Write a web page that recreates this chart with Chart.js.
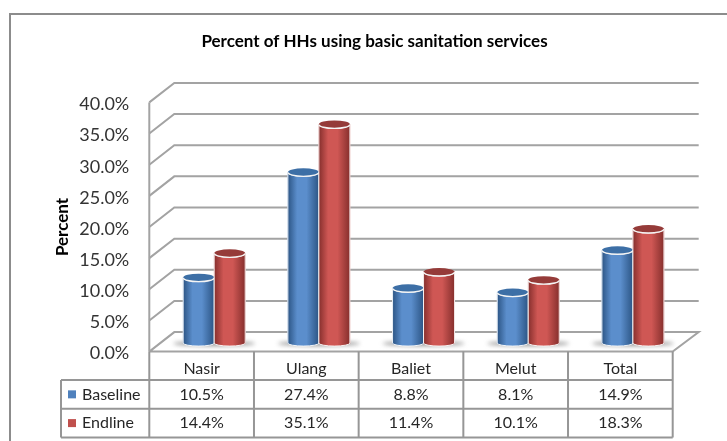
<!DOCTYPE html>
<html>
<head>
<meta charset="utf-8">
<title>Percent of HHs using basic sanitation services</title>
<script src="https://cdn.jsdelivr.net/npm/chart.js@4"></script>
<style>
    html, body { margin: 0; padding: 0; background: #fff; overflow: hidden; }
    #wrap { position: relative; width: 727px; height: 441px; }
</style>
</head>
<body>
<div id="wrap"><canvas id="sanitationChart" width="727" height="441"></canvas></div>
<script>
const categories = ["Nasir", "Ulang", "Baliet", "Melut", "Total"];
const baseline = [10.5, 27.4, 8.8, 8.1, 14.9];
const endline = [14.4, 35.1, 11.4, 10.1, 18.3];

const FONT = "Lato, sans-serif";
const LINE = "#a3a3a3";
const DEPTH_X = 25;
const DEPTH_Y = 19.5;
const RY = 4;
const ROWS = [380, 408.7, 437.5];
const LEGEND_LEFT = 61;
const PALETTE = [
    { edge: "#2c5585", mid: "#5b8ecc", top: "#3d6fa6" },
    { edge: "#862f2d", mid: "#cf5754", top: "#953b39" }
];

const fmt = v => v.toFixed(1) + "%";

// Back walls and floor, following the front y axis
const wallsPlugin = {
    id: "walls",
    beforeDatasetsDraw(chart) {
        const { ctx, chartArea: a, scales } = chart;
        ctx.save();
        ctx.strokeStyle = LINE;
        ctx.lineWidth = 2;
        scales.y.ticks.forEach(t => {
            const y = scales.y.getPixelForValue(t.value);
            ctx.beginPath();
            ctx.moveTo(a.left, y);
            ctx.lineTo(a.left + DEPTH_X, y - DEPTH_Y);
            ctx.lineTo(a.right + DEPTH_X + 1, y - DEPTH_Y);
            if (t.value === 0) {
                ctx.lineTo(a.right, y);
                ctx.lineTo(a.left, y);
            }
            ctx.stroke();
        });
        ctx.beginPath();
        ctx.moveTo(a.left, a.top);
        ctx.lineTo(a.left, a.bottom);
        ctx.stroke();

        // soft shadow on the floor
        const m0 = chart.getDatasetMeta(0).data;
        const m1 = chart.getDatasetMeta(1).data;
        ctx.filter = "blur(2px)";
        ctx.fillStyle = "#9a9a9a";
        m0.forEach((bar, i) => {
            const l = bar.x - bar.width / 2;
            const r = m1[i].x + m1[i].width / 2;
            ctx.beginPath();
            ctx.ellipse((l + r) / 2, bar.base + 0.5, (r - l) / 2 + 10, 2.5, 0, 0, Math.PI * 2);
            ctx.fill();
        });
        ctx.restore();
    }
};

// Paints each bar as a cylinder, from the bar element's own position
const cylinderPlugin = {
    id: "cylinders",
    afterDatasetsDraw(chart) {
        const { ctx } = chart;
        ctx.save();
        chart.data.datasets.forEach((ds, d) => {
            const c = PALETTE[d];
            chart.getDatasetMeta(d).data.forEach(bar => {
                const rx = bar.width / 2;
                const l = bar.x - rx;
                const r = bar.x + rx;
                const g = ctx.createLinearGradient(l, 0, r, 0);
                g.addColorStop(0, c.edge);
                g.addColorStop(0.3, c.mid);
                g.addColorStop(0.6, c.mid);
                g.addColorStop(1, c.edge);
                ctx.beginPath();
                ctx.moveTo(l, bar.y);
                ctx.lineTo(l, bar.base);
                ctx.ellipse(bar.x, bar.base, rx, RY - 1, 0, Math.PI, 0, true);
                ctx.lineTo(r, bar.y);
                ctx.ellipse(bar.x, bar.y, rx, RY, 0, 0, Math.PI, false);
                ctx.closePath();
                ctx.fillStyle = g;
                ctx.fill();
                ctx.strokeStyle = "rgba(255,255,255,0.9)";
                ctx.lineWidth = 1;
                ctx.stroke();
                ctx.beginPath();
                ctx.ellipse(bar.x, bar.y, rx, RY, 0, 0, Math.PI * 2);
                ctx.fillStyle = c.top;
                ctx.fill();
                ctx.strokeStyle = "#f4f4f4";
                ctx.lineWidth = 1.4;
                ctx.beginPath();
                ctx.ellipse(bar.x, bar.y, rx, RY, 0, 0, Math.PI, false);
                ctx.stroke();
            });
        });
        ctx.restore();
    }
};

// Outer frame plus the data table under the plot
const tablePlugin = {
    id: "dataTable",
    afterDraw(chart) {
        const { ctx, chartArea: a } = chart;
        const scale = chart.scales.x;
        ctx.save();
        ctx.strokeStyle = "#8c8c8c";
        ctx.lineWidth = 2;
        ctx.beginPath();
        ctx.moveTo(10, 441);
        ctx.lineTo(10, 14);
        ctx.lineTo(727, 14);
        ctx.stroke();

        ctx.strokeStyle = "#969696";
        ctx.lineWidth = 2;
        const step = (a.right - a.left) / categories.length;
        ctx.beginPath();
        for (let i = 0; i <= categories.length; i++) {
            ctx.moveTo(a.left + step * i, a.bottom);
            ctx.lineTo(a.left + step * i, ROWS[2]);
        }
        ROWS.forEach(y => {
            ctx.moveTo(LEGEND_LEFT, y);
            ctx.lineTo(a.right, y);
        });
        ctx.moveTo(LEGEND_LEFT, ROWS[0]);
        ctx.lineTo(LEGEND_LEFT, ROWS[2]);
        ctx.stroke();

        ctx.font = "16px " + FONT;
        ctx.textBaseline = "middle";
        chart.data.datasets.forEach((ds, d) => {
            const y = (ROWS[d] + ROWS[d + 1]) / 2;
            ctx.fillStyle = ds.backgroundColor;
            ctx.fillRect(LEGEND_LEFT + 7, y - 4, 8, 8);
            ctx.fillStyle = "#262626";
            ctx.textAlign = "left";
            ctx.fillText(ds.label, LEGEND_LEFT + 21, y);
            ctx.textAlign = "center";
            ds.data.forEach((p, i) => {
                ctx.fillText(fmt(p.y), scale.getPixelForTick(i), y);
            });
        });
        ctx.restore();
    }
};

const toPoints = values => values.map((v, i) => ({ x: i, y: v }));

new Chart(document.getElementById("sanitationChart").getContext("2d"), {
    type: "bar",
    data: {
        labels: categories,
        datasets: [
            { label: "Baseline", data: toPoints(baseline), backgroundColor: "#4f81bd", xAxisID: "xBars", yAxisID: "yBars", borderWidth: 0, barThickness: 31 },
            { label: "Endline", data: toPoints(endline), backgroundColor: "#c0504d", xAxisID: "xBars", yAxisID: "yBars", borderWidth: 0, barThickness: 31 }
        ]
    },
    options: {
        responsive: false,
        animation: false,
        layout: { padding: { left: 22, right: 0, top: 0, bottom: 0 } },
        plugins: {
            legend: { display: false },
            tooltip: { enabled: false },
            title: {
                display: true,
                text: "Percent of HHs using basic sanitation services",
                color: "#000",
                font: { family: FONT, size: 17, weight: "bold" },
                padding: { top: 31, bottom: 51 }
            }
        },
        scales: {
            x: {
                type: "category",
                position: "bottom",
                grid: { display: false, drawTicks: false },
                border: { display: false },
                ticks: { color: "#262626", font: { family: FONT, size: 16 }, padding: 8, maxRotation: 0 },
                afterFit: s => { s.height = 89.4; }
            },
            // bars stand further back than the front axis
            xBars: { type: "linear", axis: "x", display: false, offset: false, min: -0.62, max: 4.38 },
            y: {
                position: "left",
                min: 0,
                max: 40,
                grid: { display: false, drawTicks: false },
                border: { display: false },
                ticks: {
                    stepSize: 5,
                    padding: 20,
                    labelOffset: 2,
                    color: "#333",
                    font: { family: FONT, size: 18 },
                    callback: v => fmt(v)
                },
                title: {
                    display: true,
                    text: "Percent",
                    color: "#000",
                    font: { family: FONT, size: 17, weight: "bold" },
                    padding: { top: 30, bottom: 0 }
                },
                afterFit: s => { s.width = 127.3; }
            },
            yBars: {
                position: "right",
                min: -1.37,
                max: 38.63,
                grid: { display: false, drawTicks: false },
                border: { display: false },
                ticks: { display: false },
                afterFit: s => { s.width = 54.3; }
            }
        }
    },
    plugins: [wallsPlugin, cylinderPlugin, tablePlugin]
});
</script>
</body>
</html>
